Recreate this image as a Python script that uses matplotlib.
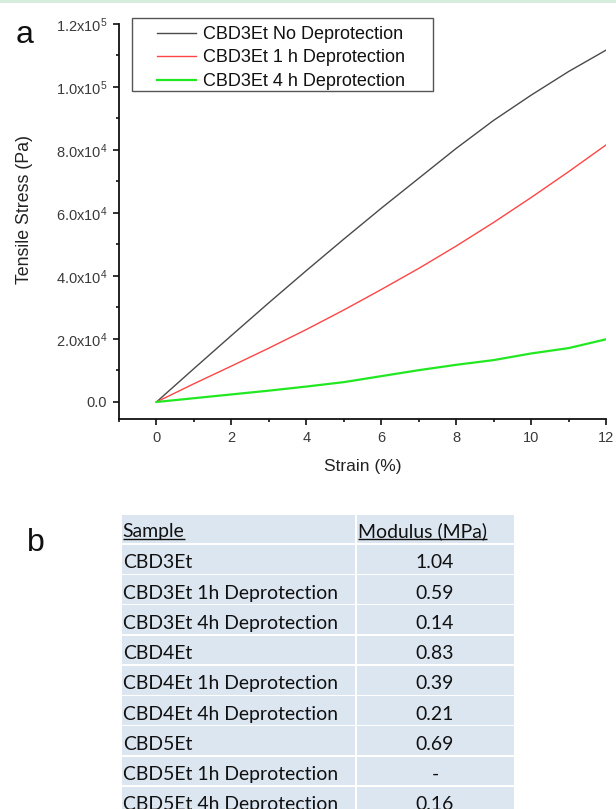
import matplotlib
matplotlib.use("Agg")
import math
import matplotlib.pyplot as plt
from matplotlib.ticker import MultipleLocator, FixedLocator, FuncFormatter
from matplotlib.patches import Rectangle

# ---------------- data ----------------
strain = [0, 1, 2, 3, 4, 5, 6, 7, 8, 9, 10, 11, 12]
stress_none = [0, 10.6e3, 21.1e3, 31.5e3, 41.7e3, 51.7e3, 61.5e3, 71.0e3,
               80.5e3, 89.4e3, 97.4e3, 104.9e3, 111.7e3]
stress_1h = [0, 5.8e3, 11.4e3, 17.1e3, 23.0e3, 29.2e3, 35.7e3, 42.4e3,
             49.5e3, 57.0e3, 64.9e3, 73.1e3, 81.6e3]
stress_4h = [0, 1.2e3, 2.4e3, 3.6e3, 4.9e3, 6.3e3, 8.2e3, 10.1e3,
             11.8e3, 13.3e3, 15.4e3, 17.1e3, 19.9e3]
series_labels = ["CBD3Et No Deprotection", "CBD3Et 1 h Deprotection",
                 "CBD3Et 4 h Deprotection"]
x_ticks = [0, 2, 4, 6, 8, 10, 12]
y_ticks = [0, 2e4, 4e4, 6e4, 8e4, 1.0e5, 1.2e5]

table_header = ["Sample", "Modulus (MPa)"]
table_samples = ["CBD3Et", "CBD3Et 1h Deprotection", "CBD3Et 4h Deprotection",
                 "CBD4Et", "CBD4Et 1h Deprotection", "CBD4Et 4h Deprotection",
                 "CBD5Et", "CBD5Et 1h Deprotection", "CBD5Et 4h Deprotection"]
table_moduli = ["1.04", "0.59", "0.14", "0.83", "0.39", "0.21", "0.69", "-", "0.16"]

# ---------------- style ----------------
plt.rcParams['font.family'] = ['Liberation Sans', 'DejaVu Sans']
plt.rcParams['mathtext.fontset'] = 'custom'
plt.rcParams['mathtext.rm'] = 'Liberation Sans'
plt.rcParams['mathtext.it'] = 'Liberation Sans'
plt.rcParams['mathtext.bf'] = 'Liberation Sans'

W, H = 616, 809
fig = plt.figure(figsize=(W / 100, H / 100), dpi=100)
fig.patch.set_facecolor('white')

# overlay axes in pixel coordinates (for table, panel letters, legend frame)
tax = fig.add_axes([0, 0, 1, 1])
tax.set_xlim(0, W)
tax.set_ylim(H, 0)
tax.axis('off')
tax.patch.set_visible(False)

# main plot axes
ax = fig.add_axes([119 / W, 1 - 419 / H, (606 - 119) / W, (419 - 24) / H])
ax.patch.set_visible(False)

line_colors = ['#4a4a4a', '#ff4545', '#22e822']
line_widths = [1.0, 1.0, 1.6]
for ys, lab, c, lw in zip([stress_none, stress_1h, stress_4h], series_labels,
                          line_colors, line_widths):
    ax.plot(strain, ys, color=c, lw=lw, label=lab)

ax.set_xlim(-1, 12)
ax.set_ylim(-5400, 1.2e5)
ax.xaxis.set_major_locator(FixedLocator(x_ticks))
ax.xaxis.set_minor_locator(MultipleLocator(1))
ax.yaxis.set_major_locator(FixedLocator(y_ticks))
ax.yaxis.set_minor_locator(MultipleLocator(1e4))


def yfmt(v, pos):
    if abs(v) < 1e-9:
        return "0.0"
    e = int(math.floor(math.log10(abs(v)) + 1e-9))
    m = v / 10 ** e
    return "%.1fx10$^{%d}$" % (m, e)


ax.yaxis.set_major_formatter(FuncFormatter(yfmt))
for s in ['top', 'right']:
    ax.spines[s].set_visible(False)
for s in ['left', 'bottom']:
    ax.spines[s].set_linewidth(1.3)
    ax.spines[s].set_color('#111111')
ax.tick_params(which='major', direction='out', length=4.0, width=1.2,
               labelsize=10.5, labelcolor='#3a3a3a', color='#111111', pad=4.5)
ax.tick_params(which='minor', direction='out', length=2.0, width=1.2,
               color='#111111')

ax.set_xlabel("Strain (%)", fontsize=12.5, color='#222222')
ax.set_ylabel("Tensile Stress (Pa)", fontsize=12.8, color='#222222')
ax.xaxis.set_label_coords(0.5, (419 - 467) / (419 - 24))
ax.xaxis.label.set_va('center')
ax.yaxis.set_label_coords((25 - 119) / (606 - 119), (419 - 210) / (419 - 24))
ax.yaxis.label.set_va('center')
ax.yaxis.label.set_ha('center')

leg_fs = 13.0
em = leg_fs * 100 / 72.0
leg = ax.legend(loc='upper left', bbox_to_anchor=(157 / W, 1 - 26 / H),
                bbox_transform=fig.transFigure, frameon=False, borderpad=0,
                borderaxespad=0, fontsize=leg_fs, handlelength=39 / em,
                handletextpad=7 / em, labelspacing=0.36)
for t in leg.get_texts():
    t.set_color('#111111')

# legend frame
tax.add_patch(Rectangle((132, 18), 433 - 132, 91 - 18, facecolor='white',
                        edgecolor='#555555', lw=1.0, zorder=1))

# top border strip
tax.add_patch(Rectangle((0, 0), W, 2.5, facecolor='#d6ecdd', edgecolor='none'))

# panel letters
tax.text(16, 43, "a", fontsize=23, va='baseline', ha='left', color='#111111')
tax.text(27, 551, "b", fontsize=23, va='baseline', ha='left', color='#111111')

# ---------------- table ----------------
tfam = ['Lato', 'DejaVu Sans']
renderer = fig.canvas.get_renderer()
probe = tax.text(0, 0, "CBD3Et 1h Deprotection", fontsize=10, family=tfam)
pw = probe.get_window_extent(renderer).width
probe.remove()
tfs = 10 * 216.0 / pw

tbl_left, tbl_split, tbl_right = 122.0, 356.0, 514.0
gap = 1.6
bg = '#dce6f1'
txt_color = '#111111'

# header row
hdr_top, hdr_bot = 515.0, 543.3
tax.add_patch(Rectangle((tbl_left, hdr_top), tbl_split - tbl_left - gap / 2,
                        hdr_bot - hdr_top, facecolor=bg, edgecolor='none'))
tax.add_patch(Rectangle((tbl_split + gap / 2, hdr_top), tbl_right - tbl_split - gap / 2,
                        hdr_bot - hdr_top, facecolor=bg, edgecolor='none'))
hdr_x = [tbl_left + 0.8, tbl_split + 2.3]
for label, x in zip(table_header, hdr_x):
    t = tax.text(x, 536.7, label, fontsize=tfs, family=tfam, va='baseline',
                 ha='left', color=txt_color)
    bb = t.get_window_extent(renderer)
    tax.plot([x, x + bb.width], [538.6, 538.6], color=txt_color, lw=1.0,
             solid_capstyle='butt')

row_top0, pitch, row_h = 544.9, 30.25, 28.7
for k, (smp, mod) in enumerate(zip(table_samples, table_moduli)):
    top = row_top0 + k * pitch
    tax.add_patch(Rectangle((tbl_left, top), tbl_split - tbl_left - gap / 2, row_h,
                            facecolor=bg, edgecolor='none'))
    tax.add_patch(Rectangle((tbl_split + gap / 2, top), tbl_right - tbl_split - gap / 2,
                            row_h, facecolor=bg, edgecolor='none'))
    tax.text(tbl_left + 0.8, top + 23.5, smp, fontsize=tfs, family=tfam,
             va='baseline', ha='left', color=txt_color)
    tax.text(435, top + 23.5, mod, fontsize=tfs, family=tfam,
             va='baseline', ha='center', color=txt_color)

fig.savefig("out.png", dpi=100)
